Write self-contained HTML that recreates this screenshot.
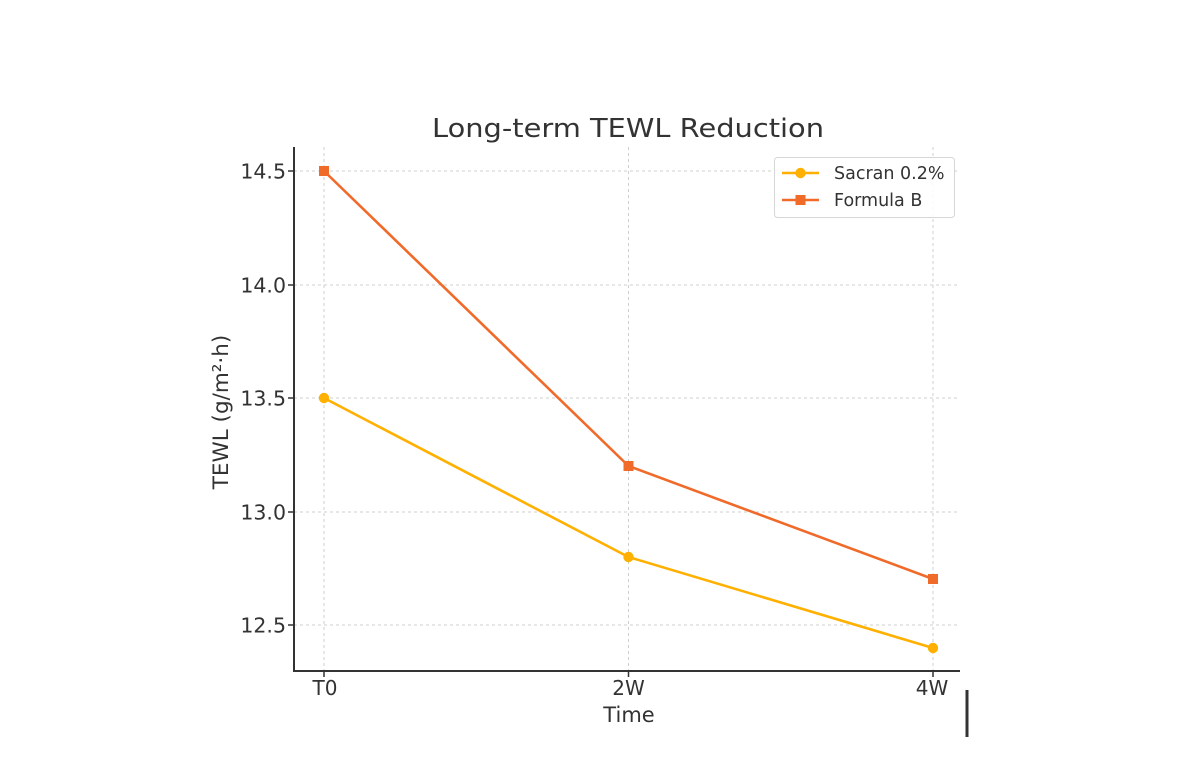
<!DOCTYPE html>
<html>
<head>
<meta charset="utf-8">
<style>
  html, body { margin: 0; padding: 0; background: #ffffff; }
  svg { display: block; }
  text { font-family: "DejaVu Sans", "Liberation Sans", sans-serif; fill: #333333; }
</style>
</head>
<body>
<svg width="1200" height="773" viewBox="0 0 1200 773" xmlns="http://www.w3.org/2000/svg">
  <rect x="0" y="0" width="1200" height="773" fill="#ffffff"/>

  <!-- Title -->
  <text x="628" y="137" font-size="26" text-anchor="middle" textLength="392" lengthAdjust="spacingAndGlyphs" fill="#3a3a3a">Long-term TEWL Reduction</text>

  <!-- Grid -->
  <g stroke="#cfcfcf" stroke-width="1" stroke-dasharray="3,3" fill="none">
    <line x1="294" y1="171" x2="960" y2="171"/>
    <line x1="294" y1="285" x2="960" y2="285"/>
    <line x1="294" y1="398" x2="960" y2="398"/>
    <line x1="294" y1="512" x2="960" y2="512"/>
    <line x1="294" y1="625" x2="960" y2="625"/>
    <line x1="324" y1="147" x2="324" y2="672"/>
    <line x1="628.5" y1="147" x2="628.5" y2="672"/>
    <line x1="933" y1="147" x2="933" y2="672"/>
  </g>

  <!-- Spines -->
  <g stroke="#333333" stroke-width="2" fill="none">
    <line x1="294" y1="147" x2="294" y2="672"/>
    <line x1="293" y1="671" x2="960" y2="671"/>
  </g>

  <!-- Ticks -->
  <g stroke="#333333" stroke-width="1.5">
    <line x1="288" y1="171" x2="294" y2="171"/>
    <line x1="288" y1="285" x2="294" y2="285"/>
    <line x1="288" y1="398" x2="294" y2="398"/>
    <line x1="288" y1="512" x2="294" y2="512"/>
    <line x1="288" y1="625" x2="294" y2="625"/>
    <line x1="324" y1="671" x2="324" y2="677"/>
    <line x1="628.5" y1="671" x2="628.5" y2="677"/>
    <line x1="933" y1="671" x2="933" y2="677"/>
  </g>

  <!-- Y tick labels -->
  <g font-size="20.5" text-anchor="end">
    <text x="286" y="178.5">14.5</text>
    <text x="286" y="292.5">14.0</text>
    <text x="286" y="405.5">13.5</text>
    <text x="286" y="519.5">13.0</text>
    <text x="286" y="632.5">12.5</text>
  </g>

  <!-- X tick labels -->
  <g font-size="20" text-anchor="middle">
    <text x="325" y="695">T0</text>
    <text x="628.5" y="695">2W</text>
    <text x="932" y="695">4W</text>
  </g>

  <!-- Axis labels -->
  <text x="629" y="722" font-size="21" text-anchor="middle">Time</text>
  <text x="0" y="0" font-size="21.5" text-anchor="middle" transform="translate(228,412) rotate(-90)">TEWL (g/m²·h)</text>

  <!-- Series: Sacran 0.2% -->
  <polyline points="324,398 628.5,557 933,648" fill="none" stroke="#FFB000" stroke-width="2.6" stroke-linejoin="round"/>
  <g fill="#FFB000">
    <circle cx="324" cy="398" r="5.2"/>
    <circle cx="628.5" cy="557" r="5.2"/>
    <circle cx="933" cy="648" r="5.2"/>
  </g>

  <!-- Series: Formula B -->
  <polyline points="324,171 628.5,466 933,579" fill="none" stroke="#F06A2A" stroke-width="2.6" stroke-linejoin="round"/>
  <g fill="#F06A2A">
    <rect x="319" y="166" width="10" height="10"/>
    <rect x="623.5" y="461" width="10" height="10"/>
    <rect x="928" y="574" width="10" height="10"/>
  </g>

  <!-- Legend -->
  <rect x="774.5" y="157.5" width="180" height="60" rx="3" ry="3" fill="#ffffff" fill-opacity="0.85" stroke="#d6d6d6" stroke-width="1"/>
  <line x1="782" y1="173" x2="819" y2="173" stroke="#FFB000" stroke-width="2.6"/>
  <circle cx="800.5" cy="173" r="5.2" fill="#FFB000"/>
  <text x="834" y="179" font-size="17.5">Sacran 0.2%</text>
  <line x1="782" y1="200" x2="819" y2="200" stroke="#F06A2A" stroke-width="2.6"/>
  <rect x="795.5" y="195" width="10" height="10" fill="#F06A2A"/>
  <text x="834" y="206" font-size="17.5">Formula B</text>

  <!-- Stray vertical mark -->
  <line x1="967" y1="690" x2="967" y2="737" stroke="#333333" stroke-width="3"/>
</svg>
</body>
</html>
